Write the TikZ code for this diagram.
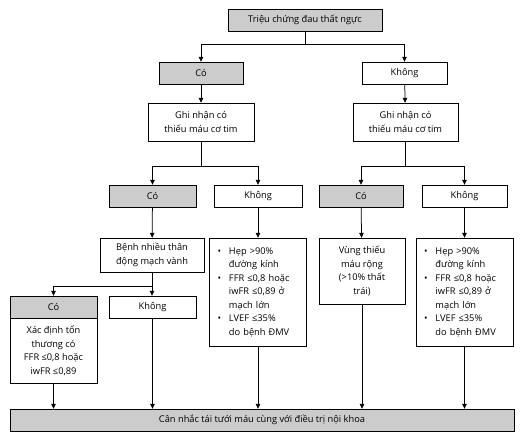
\documentclass[tikz,border=0pt]{standalone}
\usepackage{fontspec}
\setmainfont{Open Sans}
\usetikzlibrary{calc}
\usetikzlibrary{arrows.meta}

\begin{document}
\begin{tikzpicture}[x=1bp, y=-1bp, every node/.style={font=\fontsize{9.3}{13.6}\selectfont},
		box/.style={draw, fill=white, inner sep=0pt, align=center, minimum height=22bp},
		grey/.style={box, fill=black!20},
		listbox/.style={box, align=left, text width=81bp, inner xsep=8bp},
		arr/.style={-{Triangle[length=5bp, width=4.5bp]}, line width=0.75bp}]
		\useasboundingbox (0,0) rectangle (532,441);
		% level 0 and 1
		\node[grey, minimum width=154bp] (top) at (305,20) {Triệu chứng đau thất ngực};
		\node[grey, minimum width=84bp] (co1) at (201,73) {Có};
		\node[box, minimum width=85bp] (khong1) at (404.5,73) {Không};
		\node[box, minimum width=106bp, minimum height=38bp] (ghiL) at (201,122) {Ghi nhận có\\thiếu máu cơ tim};
		\node[box, minimum width=105bp, minimum height=38bp] (ghiR) at (405.5,122) {Ghi nhận có\\thiếu máu cơ tim};
		% level 2
		\node[grey, minimum width=87bp] (co2L) at (152.5,196) {Có};
		\node[box, minimum width=88bp] (khong2L) at (258,196) {Không};
		\node[grey, minimum width=84bp] (co2R) at (361,196) {Có};
		\node[box, minimum width=85bp] (khong2R) at (464.5,196) {Không};
		\node[box, minimum width=104bp, minimum height=34bp] (benh) at (152,255) {Bệnh nhiều thân\\động mạch vành};
		\node[listbox, minimum height=108bp] (listL) at (258,292) {%
			\begin{tabular}{@{}l@{\hspace{8bp}}l@{}}
				• & Hẹp >90\% \\ & đường kính \\
				• & FFR ≤0,8 hoặc \\ & iwFR ≤0,89 ở \\ & mạch lớn \\
				• & LVEF ≤35\% \\ & do bệnh ĐMV
			\end{tabular}};
		\node[box, minimum width=86bp, minimum height=66bp] (vung) at (362,271) {Vùng thiếu\\máu rộng\\(>10\% thất\\trái)};
		\node[listbox, minimum height=108bp] (listR) at (464.5,292) {%
			\begin{tabular}{@{}l@{\hspace{8bp}}l@{}}
				• & Hẹp >90\% \\ & đường kính \\
				• & FFR ≤0,8 hoặc \\ & iwFR ≤0,89 ở \\ & mạch lớn \\
				• & LVEF ≤35\% \\ & do bệnh ĐMV
			\end{tabular}};
		% level 3
		\node[grey, minimum width=87bp] (co3) at (53.5,307) {Có};
		\node[box, minimum width=87bp, minimum height=65bp] (xac) at (53.5,350.5) {Xác định tổn\\thương có\\FFR ≤0,8 hoặc\\iwFR ≤0,89};
		\node[box, minimum width=87bp] (khong3) at (152.5,307) {Không};
		\node[grey, minimum width=504bp] (final) at (262,420) {Cân nhắc tái tưới máu cùng với điều trị nội khoa};
		% connectors
		\draw[arr] (top.south) -- ++(0,13) -| (co1.north);
		\draw[arr] (top.south) -- ++(0,13) -| (khong1.north);
		\draw[arr] (co1) -- (ghiL);
		\draw[arr] (khong1) -- (ghiR);
		\draw[arr] (ghiL.south) -- ++(0,25) -| (co2L.north);
		\draw[arr] (ghiL.south) -- ++(0,25) -| (khong2L.north);
		\draw[arr] (ghiR.south) -- ++(0,25) -| (co2R.north);
		\draw[arr] (ghiR.south) -- ++(0,25) -| (khong2R.north);
		\draw[arr] (co2L) -- (benh);
		\draw[arr] (khong2L) -- (listL);
		\draw[arr] (co2R) -- (vung);
		\draw[arr] (khong2R) -- (listR);
		\draw[arr] (benh.south) -- ++(0,14) -| (co3.north);
		\draw[arr] (benh.south) -- (benh.south |- khong3.north);
		\draw[arr] (xac.south) -- (xac.south |- final.north);
		\draw[arr] (khong3.south) -- (khong3.south |- final.north);
		\draw[arr] (listL.south) -- (listL.south |- final.north);
		\draw[arr] (vung.south) -- (vung.south |- final.north);
		\draw[arr] (listR.south) -- (listR.south |- final.north);
	\end{tikzpicture}
\end{document}
